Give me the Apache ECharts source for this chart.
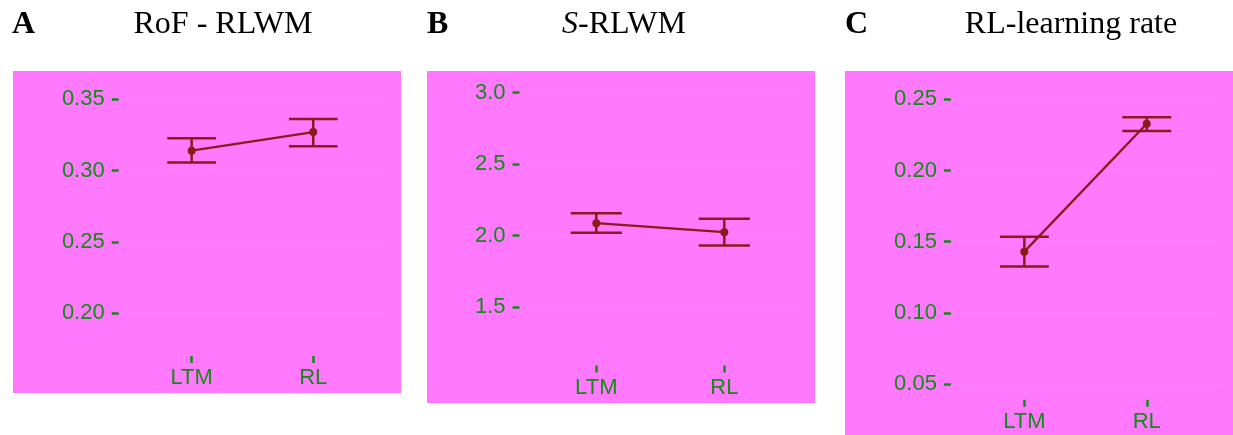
<!DOCTYPE html>
<html>
<head>
<meta charset="utf-8">
<script src="https://cdn.jsdelivr.net/npm/echarts@6/dist/echarts.min.js"></script>
<style>
  html, body { margin: 0; padding: 0; background: #ffffff; }
  #chart { width: 1233px; height: 435px; }
</style>
</head>
<body>
<div id="chart"></div>
<script>
// Conditions shown on each x axis
const categories = ['LTM', 'RL'];

// Panel A: RoF - RLWM (mean and error-bar bounds)
const rofMean = [0.314, 0.327];
const rofLow  = [0.3056, 0.317];
const rofHigh = [0.3226, 0.3362];
const rofTicks = [0.20, 0.25, 0.30, 0.35];

// Panel B: S-RLWM
const sMean = [2.087, 2.024];
const sLow  = [2.019, 1.930];
const sHigh = [2.157, 2.117];
const sTicks = [1.5, 2.0, 2.5, 3.0];

// Panel C: RL-learning rate
const lrMean = [0.143, 0.2328];
const lrLow  = [0.1325, 0.2278];
const lrHigh = [0.1535, 0.2375];
const lrTicks = [0.05, 0.10, 0.15, 0.20, 0.25];

const PINK = '#FF79FF';
const GREEN = '#168a16';
const LINE = '#8B1A1A';
const CAP_WIDTH = 0.4; // error-bar cap width in category units
const catPositions = categories.map((_, i) => i + 1);

const chart = echarts.init(document.getElementById('chart'), null, { renderer: 'canvas' });

function xAxis(gridIndex) {
  return {
    type: 'value', gridIndex, min: 0.4, max: 2.6,
    axisLine: { show: false },
    splitLine: { show: false },
    axisTick: { show: true, customValues: catPositions, length: 7, inside: false,
                lineStyle: { color: GREEN, width: 2.5 } },
    axisLabel: { customValues: catPositions, margin: 11, color: GREEN, fontSize: 22,
                 fontFamily: 'Liberation Sans, Arial, sans-serif',
                 formatter: v => categories[Math.round(v) - 1] }
  };
}

function yAxis(gridIndex, min, max, ticks, digits) {
  return {
    type: 'value', gridIndex, min, max,
    axisLine: { show: false },
    axisTick: { show: true, customValues: ticks, length: 7,
                lineStyle: { color: GREEN, width: 2.5 } },
    splitLine: { show: true, lineStyle: { color: 'rgba(255,255,255,0.06)', width: 1 } },
    axisLabel: { customValues: ticks, margin: 14, color: GREEN, fontSize: 22,
                 fontFamily: 'Liberation Sans, Arial, sans-serif',
                 formatter: v => v.toFixed(digits) }
  };
}

function meanSeries(idx, mean) {
  return {
    type: 'line', xAxisIndex: idx, yAxisIndex: idx,
    data: mean.map((v, i) => [catPositions[i], v]),
    symbol: 'circle', symbolSize: 8,
    itemStyle: { color: LINE },
    lineStyle: { color: LINE, width: 2.3 },
    z: 5, animation: false
  };
}

function errorSeries(idx, low, high) {
  return {
    type: 'custom', xAxisIndex: idx, yAxisIndex: idx,
    data: low.map((v, i) => [catPositions[i], v, high[i]]),
    renderItem: (params, api) => {
      const x = api.value(0);
      const lo = api.coord([x, api.value(1)]);
      const hi = api.coord([x, api.value(2)]);
      const l = api.coord([x - CAP_WIDTH / 2, api.value(1)])[0];
      const r = api.coord([x + CAP_WIDTH / 2, api.value(1)])[0];
      const style = { stroke: LINE, lineWidth: 2.5 };
      return {
        type: 'group',
        children: [
          { type: 'line', shape: { x1: lo[0], y1: lo[1], x2: hi[0], y2: hi[1] }, style },
          { type: 'line', shape: { x1: l, y1: lo[1], x2: r, y2: lo[1] }, style },
          { type: 'line', shape: { x1: l, y1: hi[1], x2: r, y2: hi[1] }, style }
        ]
      };
    },
    z: 4, animation: false
  };
}

const serif = 'Liberation Serif, Times New Roman, serif';
function heading(letter, lx, title, cx, rich) {
  return [
    { type: 'text', left: lx, top: 9, z: 10,
      style: { text: letter, font: 'bold 32px ' + serif, fill: '#000' } },
    { type: 'text', x: cx, y: 9, z: 10,
      style: { text: title, font: '32px ' + serif, fill: '#000', align: 'center',
               verticalAlign: 'top', rich: rich || {} } }
  ];
}

const option = {
  backgroundColor: '#ffffff',
  animation: false,
  grid: [
    { left: 118.7, top: 85.0, width: 267.5, height: 271.1 },
    { left: 519.5, top: 78.4, width: 281.6, height: 287.2 },
    { left: 950.9, top: 85.1, width: 269.3, height: 314.6 }
  ],
  xAxis: [xAxis(0), xAxis(1), xAxis(2)],
  yAxis: [
    yAxis(0, 0.17, 0.36, rofTicks, 2),
    yAxis(1, 1.09, 3.1, sTicks, 1),
    yAxis(2, 0.039, 0.26, lrTicks, 2)
  ],
  series: [
    errorSeries(0, rofLow, rofHigh), meanSeries(0, rofMean),
    errorSeries(1, sLow, sHigh), meanSeries(1, sMean),
    errorSeries(2, lrLow, lrHigh), meanSeries(2, lrMean)
  ],
  graphic: [
    { type: 'rect', shape: { x: 13, y: 71, width: 388, height: 322 }, style: { fill: PINK }, z: -10 },
    { type: 'rect', shape: { x: 427, y: 71, width: 388, height: 332 }, style: { fill: PINK }, z: -10 },
    { type: 'rect', shape: { x: 845, y: 71, width: 388, height: 364 }, style: { fill: PINK }, z: -10 },
    ...heading('A', 12, 'RoF - RLWM', 223),
    ...heading('B', 427, '{i|S}-RLWM', 624, { i: { font: 'italic 32px ' + serif, fill: '#000' } }),
    ...heading('C', 845, 'RL-learning rate', 1071)
  ]
};

chart.setOption(option);
</script>
</body>
</html>
